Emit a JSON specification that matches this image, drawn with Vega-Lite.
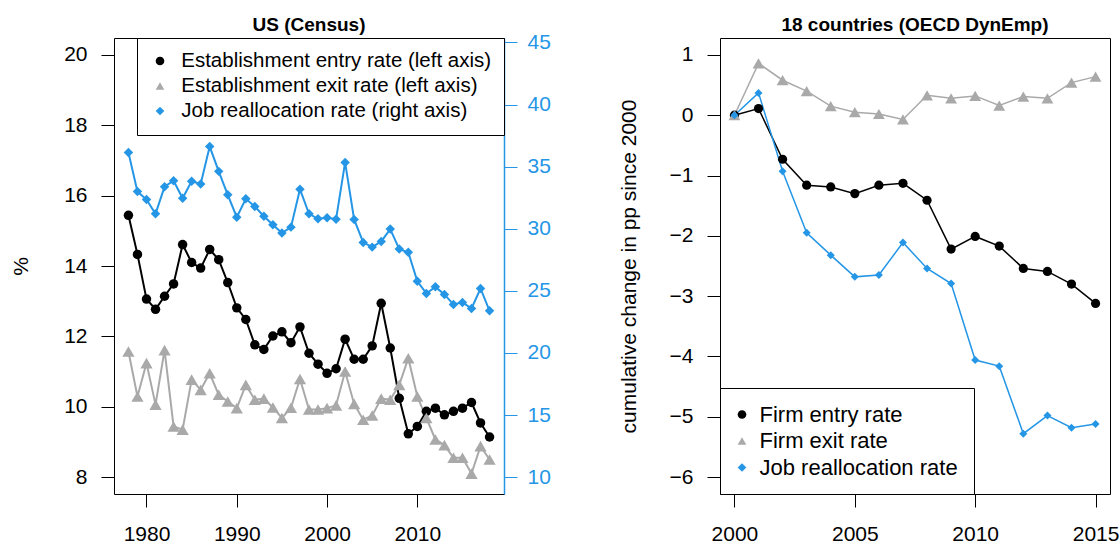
{
  "$schema": "https://vega.github.io/schema/vega-lite/v6.json",
  "padding": {"left": 10, "top": 15, "right": 0, "bottom": 0},
  "background": "white",
  "datasets": {
    "us": [
      {"year": 1978, "series": "entry", "value": 15.44}, {"year": 1979, "series": "entry", "value": 14.33}, {"year": 1980, "series": "entry", "value": 13.06}, {"year": 1981, "series": "entry", "value": 12.77}, {"year": 1982, "series": "entry", "value": 13.14}, {"year": 1983, "series": "entry", "value": 13.49}, {"year": 1984, "series": "entry", "value": 14.61}, {"year": 1985, "series": "entry", "value": 14.10}, {"year": 1986, "series": "entry", "value": 13.94}, {"year": 1987, "series": "entry", "value": 14.47}, {"year": 1988, "series": "entry", "value": 14.18}, {"year": 1989, "series": "entry", "value": 13.53}, {"year": 1990, "series": "entry", "value": 12.81}, {"year": 1991, "series": "entry", "value": 12.48}, {"year": 1992, "series": "entry", "value": 11.76}, {"year": 1993, "series": "entry", "value": 11.63}, {"year": 1994, "series": "entry", "value": 12.01}, {"year": 1995, "series": "entry", "value": 12.13}, {"year": 1996, "series": "entry", "value": 11.82}, {"year": 1997, "series": "entry", "value": 12.27}, {"year": 1998, "series": "entry", "value": 11.52}, {"year": 1999, "series": "entry", "value": 11.21}, {"year": 2000, "series": "entry", "value": 10.95}, {"year": 2001, "series": "entry", "value": 11.08}, {"year": 2002, "series": "entry", "value": 11.92}, {"year": 2003, "series": "entry", "value": 11.35}, {"year": 2004, "series": "entry", "value": 11.35}, {"year": 2005, "series": "entry", "value": 11.73}, {"year": 2006, "series": "entry", "value": 12.94}, {"year": 2007, "series": "entry", "value": 11.67}, {"year": 2008, "series": "entry", "value": 10.24}, {"year": 2009, "series": "entry", "value": 9.23}, {"year": 2010, "series": "entry", "value": 9.44}, {"year": 2011, "series": "entry", "value": 9.87}, {"year": 2012, "series": "entry", "value": 9.96}, {"year": 2013, "series": "entry", "value": 9.77}, {"year": 2014, "series": "entry", "value": 9.87}, {"year": 2015, "series": "entry", "value": 9.96}, {"year": 2016, "series": "entry", "value": 10.12}, {"year": 2017, "series": "entry", "value": 9.54}, {"year": 2018, "series": "entry", "value": 9.14},
      {"year": 1978, "series": "exit", "value": 11.57}, {"year": 1979, "series": "exit", "value": 10.29}, {"year": 1980, "series": "exit", "value": 11.24}, {"year": 1981, "series": "exit", "value": 10.06}, {"year": 1982, "series": "exit", "value": 11.61}, {"year": 1983, "series": "exit", "value": 9.44}, {"year": 1984, "series": "exit", "value": 9.35}, {"year": 1985, "series": "exit", "value": 10.77}, {"year": 1986, "series": "exit", "value": 10.48}, {"year": 1987, "series": "exit", "value": 10.95}, {"year": 1988, "series": "exit", "value": 10.34}, {"year": 1989, "series": "exit", "value": 10.15}, {"year": 1990, "series": "exit", "value": 9.96}, {"year": 1991, "series": "exit", "value": 10.62}, {"year": 1992, "series": "exit", "value": 10.20}, {"year": 1993, "series": "exit", "value": 10.23}, {"year": 1994, "series": "exit", "value": 9.98}, {"year": 1995, "series": "exit", "value": 9.68}, {"year": 1996, "series": "exit", "value": 9.97}, {"year": 1997, "series": "exit", "value": 10.79}, {"year": 1998, "series": "exit", "value": 9.92}, {"year": 1999, "series": "exit", "value": 9.92}, {"year": 2000, "series": "exit", "value": 9.96}, {"year": 2001, "series": "exit", "value": 10.04}, {"year": 2002, "series": "exit", "value": 11.00}, {"year": 2003, "series": "exit", "value": 10.08}, {"year": 2004, "series": "exit", "value": 9.63}, {"year": 2005, "series": "exit", "value": 9.75}, {"year": 2006, "series": "exit", "value": 10.23}, {"year": 2007, "series": "exit", "value": 10.20}, {"year": 2008, "series": "exit", "value": 10.62}, {"year": 2009, "series": "exit", "value": 11.38}, {"year": 2010, "series": "exit", "value": 10.29}, {"year": 2011, "series": "exit", "value": 9.68}, {"year": 2012, "series": "exit", "value": 9.07}, {"year": 2013, "series": "exit", "value": 8.91}, {"year": 2014, "series": "exit", "value": 8.55}, {"year": 2015, "series": "exit", "value": 8.55}, {"year": 2016, "series": "exit", "value": 8.10}, {"year": 2017, "series": "exit", "value": 8.88}, {"year": 2018, "series": "exit", "value": 8.50},
      {"year": 1978, "series": "job", "value": 36.14}, {"year": 1979, "series": "job", "value": 32.99}, {"year": 1980, "series": "job", "value": 32.35}, {"year": 1981, "series": "job", "value": 31.20}, {"year": 1982, "series": "job", "value": 33.39}, {"year": 1983, "series": "job", "value": 33.87}, {"year": 1984, "series": "job", "value": 32.45}, {"year": 1985, "series": "job", "value": 33.82}, {"year": 1986, "series": "job", "value": 33.61}, {"year": 1987, "series": "job", "value": 36.62}, {"year": 1988, "series": "job", "value": 34.62}, {"year": 1989, "series": "job", "value": 32.73}, {"year": 1990, "series": "job", "value": 30.93}, {"year": 1991, "series": "job", "value": 32.41}, {"year": 1992, "series": "job", "value": 31.79}, {"year": 1993, "series": "job", "value": 31.01}, {"year": 1994, "series": "job", "value": 30.32}, {"year": 1995, "series": "job", "value": 29.65}, {"year": 1996, "series": "job", "value": 30.13}, {"year": 1997, "series": "job", "value": 33.18}, {"year": 1998, "series": "job", "value": 31.20}, {"year": 1999, "series": "job", "value": 30.80}, {"year": 2000, "series": "job", "value": 30.88}, {"year": 2001, "series": "job", "value": 30.77}, {"year": 2002, "series": "job", "value": 35.34}, {"year": 2003, "series": "job", "value": 30.75}, {"year": 2004, "series": "job", "value": 28.90}, {"year": 2005, "series": "job", "value": 28.52}, {"year": 2006, "series": "job", "value": 28.98}, {"year": 2007, "series": "job", "value": 29.97}, {"year": 2008, "series": "job", "value": 28.36}, {"year": 2009, "series": "job", "value": 28.10}, {"year": 2010, "series": "job", "value": 25.77}, {"year": 2011, "series": "job", "value": 24.79}, {"year": 2012, "series": "job", "value": 25.32}, {"year": 2013, "series": "job", "value": 24.71}, {"year": 2014, "series": "job", "value": 23.90}, {"year": 2015, "series": "job", "value": 24.07}, {"year": 2016, "series": "job", "value": 23.58}, {"year": 2017, "series": "job", "value": 25.19}, {"year": 2018, "series": "job", "value": 23.39}
    ],
    "oecd": [
      {"year": 2000, "series": "entry", "value": 0}, {"year": 2001, "series": "entry", "value": 0.11}, {"year": 2002, "series": "entry", "value": -0.73}, {"year": 2003, "series": "entry", "value": -1.16}, {"year": 2004, "series": "entry", "value": -1.19}, {"year": 2005, "series": "entry", "value": -1.30}, {"year": 2006, "series": "entry", "value": -1.16}, {"year": 2007, "series": "entry", "value": -1.13}, {"year": 2008, "series": "entry", "value": -1.41}, {"year": 2009, "series": "entry", "value": -2.22}, {"year": 2010, "series": "entry", "value": -2.01}, {"year": 2011, "series": "entry", "value": -2.17}, {"year": 2012, "series": "entry", "value": -2.54}, {"year": 2013, "series": "entry", "value": -2.59}, {"year": 2014, "series": "entry", "value": -2.80}, {"year": 2015, "series": "entry", "value": -3.12},
      {"year": 2000, "series": "exit", "value": 0}, {"year": 2001, "series": "exit", "value": 0.86}, {"year": 2002, "series": "exit", "value": 0.58}, {"year": 2003, "series": "exit", "value": 0.40}, {"year": 2004, "series": "exit", "value": 0.15}, {"year": 2005, "series": "exit", "value": 0.05}, {"year": 2006, "series": "exit", "value": 0.02}, {"year": 2007, "series": "exit", "value": -0.07}, {"year": 2008, "series": "exit", "value": 0.33}, {"year": 2009, "series": "exit", "value": 0.28}, {"year": 2010, "series": "exit", "value": 0.32}, {"year": 2011, "series": "exit", "value": 0.16}, {"year": 2012, "series": "exit", "value": 0.31}, {"year": 2013, "series": "exit", "value": 0.28}, {"year": 2014, "series": "exit", "value": 0.54}, {"year": 2015, "series": "exit", "value": 0.64},
      {"year": 2000, "series": "job", "value": 0}, {"year": 2001, "series": "job", "value": 0.37}, {"year": 2002, "series": "job", "value": -0.93}, {"year": 2003, "series": "job", "value": -1.95}, {"year": 2004, "series": "job", "value": -2.32}, {"year": 2005, "series": "job", "value": -2.68}, {"year": 2006, "series": "job", "value": -2.65}, {"year": 2007, "series": "job", "value": -2.11}, {"year": 2008, "series": "job", "value": -2.54}, {"year": 2009, "series": "job", "value": -2.79}, {"year": 2010, "series": "job", "value": -4.06}, {"year": 2011, "series": "job", "value": -4.16}, {"year": 2012, "series": "job", "value": -5.28}, {"year": 2013, "series": "job", "value": -4.98}, {"year": 2014, "series": "job", "value": -5.18}, {"year": 2015, "series": "job", "value": -5.12}
    ]
  },
  "spacing": 66,
  "hconcat": [
    {
      "width": 390,
      "height": 456,
      "title": {"text": "US (Census)", "offset": -4},
      "data": {"name": "us"},
      "layer": [
        {
          "transform": [{"filter": "datum.series !== 'job'"}],
          "encoding": {
            "x": {"field": "year", "type": "quantitative", "scale": {"domain": [1976.4, 2019.6], "nice": false, "zero": false}, "axis": {"values": [1980, 1990, 2000, 2010], "format": "d", "title": null, "domain": false, "labelPadding": 16}},
            "y": {"field": "value", "type": "quantitative", "scale": {"domain": [7.52, 20.48], "nice": false, "zero": false}, "axis": {"orient": "left", "values": [8, 10, 12, 14, 16, 18, 20], "title": "%", "domain": false, "titlePadding": 32}}
          },
          "layer": [
            {"transform": [{"filter": "datum.series === 'entry'"}], "mark": {"type": "line", "strokeWidth": 2, "color": "#000000"}, "encoding": {}},
            {"transform": [{"filter": "datum.series === 'exit'"}], "mark": {"type": "line", "strokeWidth": 2, "color": "#A9A9A9"}, "encoding": {}},
            {"transform": [{"filter": "datum.series === 'entry'"}],
             "mark": {"type": "point", "filled": true, "opacity": 1, "strokeWidth": 0, "size": 90},
             "encoding": {
               "color": {"field": "series", "type": "nominal", "scale": {"domain": ["entry", "exit", "job"], "range": ["#000000", "#A9A9A9", "#2596E6"]},
                 "legend": {"orient": "top-right", "offset": 0, "title": null, "padding": 12.75, "rowPadding": 4, "labelFontSize": 20.5, "labelOffset": 11, "symbolOffset": 0, "symbolSize": 75, "strokeColor": "black", "fillColor": "white", "labelLimit": 500,
                   "labelExpr": "datum.label === 'entry' ? 'Establishment entry rate (left axis)' : datum.label === 'exit' ? 'Establishment exit rate (left axis)' : 'Job reallocation rate (right axis)'"}},
               "shape": {"field": "series", "type": "nominal", "scale": {"domain": ["entry", "exit", "job"], "range": ["circle", "triangle-up", "diamond"]}}
             }},
            {"transform": [{"filter": "datum.series === 'exit'"}],
             "mark": {"type": "point", "filled": true, "opacity": 1, "strokeWidth": 0, "size": 150},
             "encoding": {
               "color": {"field": "series", "type": "nominal", "scale": {"domain": ["entry", "exit", "job"], "range": ["#000000", "#A9A9A9", "#2596E6"]}},
               "shape": {"field": "series", "type": "nominal", "scale": {"domain": ["entry", "exit", "job"], "range": ["circle", "triangle-up", "diamond"]}}
             }}
          ]
        },
        {
          "transform": [{"filter": "datum.series === 'job'"}],
          "encoding": {
            "x": {"field": "year", "type": "quantitative", "scale": {"domain": [1976.4, 2019.6], "nice": false, "zero": false}, "axis": {"values": [1980, 1990, 2000, 2010], "format": "d", "title": null, "domain": false, "labelPadding": 16}},
            "y": {"field": "value", "type": "quantitative", "scale": {"domain": [8.64, 45.36], "nice": false, "zero": false}, "axis": {"orient": "right", "values": [10, 15, 20, 25, 30, 35, 40, 45], "title": null, "domain": true, "domainColor": "#2596E6", "domainWidth": 1.5, "tickColor": "#2596E6", "labelColor": "#2596E6", "labelPadding": 10}}
          },
          "layer": [
            {"mark": {"type": "line", "strokeWidth": 2, "color": "#2596E6"}, "encoding": {}},
            {"mark": {"type": "point", "filled": true, "opacity": 1, "strokeWidth": 0, "size": 90},
             "encoding": {
               "color": {"field": "series", "type": "nominal", "scale": {"domain": ["entry", "exit", "job"], "range": ["#000000", "#A9A9A9", "#2596E6"]}},
               "shape": {"field": "series", "type": "nominal", "scale": {"domain": ["entry", "exit", "job"], "range": ["circle", "triangle-up", "diamond"]}}
             }}
          ]
        }
      ],
      "resolve": {"scale": {"y": "independent"}}
    },
    {
      "width": 390,
      "height": 456,
      "title": {"text": "18 countries (OECD DynEmp)", "offset": 3},
      "data": {"name": "oecd"},
      "encoding": {
        "x": {"field": "year", "type": "quantitative", "scale": {"domain": [1999.4, 2015.6], "nice": false, "zero": false}, "axis": {"values": [2000, 2005, 2010, 2015], "format": "d", "title": null, "domain": false, "labelPadding": 16}},
        "y": {"field": "value", "type": "quantitative", "scale": {"domain": [-6.28, 1.28], "nice": false, "zero": false}, "axis": {"values": [-6, -5, -4, -3, -2, -1, 0, 1], "title": "cumulative change in pp since 2000", "domain": false, "titlePadding": 30}}
      },
      "layer": [
        {"transform": [{"filter": "datum.series === 'entry'"}], "mark": {"type": "line", "strokeWidth": 1.5, "color": "#000000"}, "encoding": {}},
        {"transform": [{"filter": "datum.series === 'exit'"}], "mark": {"type": "line", "strokeWidth": 1.5, "color": "#A9A9A9"}, "encoding": {}},
        {"transform": [{"filter": "datum.series === 'job'"}], "mark": {"type": "line", "strokeWidth": 1.5, "color": "#2596E6"}, "encoding": {}},
        {"transform": [{"filter": "datum.series === 'entry'"}],
         "mark": {"type": "point", "filled": true, "opacity": 1, "strokeWidth": 0, "size": 85},
         "encoding": {
           "color": {"field": "series", "type": "nominal", "scale": {"domain": ["entry", "exit", "job"], "range": ["#000000", "#A9A9A9", "#2596E6"]},
             "legend": {"orient": "bottom-left", "offset": 0, "title": null, "padding": 15.5, "rowPadding": 4.5, "labelFontSize": 22, "labelOffset": 6.5, "symbolOffset": -4.5, "symbolSize": 75, "strokeColor": "black", "fillColor": "white", "labelLimit": 500,
               "labelExpr": "datum.label === 'entry' ? 'Firm entry rate' : datum.label === 'exit' ? 'Firm exit rate' : 'Job reallocation rate'"}},
           "shape": {"field": "series", "type": "nominal", "scale": {"domain": ["entry", "exit", "job"], "range": ["circle", "triangle-up", "diamond"]}}
         }},
        {"transform": [{"filter": "datum.series === 'exit'"}],
         "mark": {"type": "point", "filled": true, "opacity": 1, "strokeWidth": 0, "size": 140},
         "encoding": {
           "color": {"field": "series", "type": "nominal", "scale": {"domain": ["entry", "exit", "job"], "range": ["#000000", "#A9A9A9", "#2596E6"]}},
           "shape": {"field": "series", "type": "nominal", "scale": {"domain": ["entry", "exit", "job"], "range": ["circle", "triangle-up", "diamond"]}}
         }},
        {"transform": [{"filter": "datum.series === 'job'"}],
         "mark": {"type": "point", "filled": true, "opacity": 1, "strokeWidth": 0, "size": 64},
         "encoding": {
           "color": {"field": "series", "type": "nominal", "scale": {"domain": ["entry", "exit", "job"], "range": ["#000000", "#A9A9A9", "#2596E6"]}},
           "shape": {"field": "series", "type": "nominal", "scale": {"domain": ["entry", "exit", "job"], "range": ["circle", "triangle-up", "diamond"]}}
         }}
      ]
    }
  ],
  "resolve": {"scale": {"color": "independent", "shape": "independent"}},
  "config": {
    "font": "Liberation Sans",
    "view": {"stroke": "black", "strokeWidth": 1},
    "axis": {"labelFont": "Liberation Sans", "labelFontSize": 21, "labelColor": "black", "tickColor": "black", "tickSize": 13, "tickWidth": 1, "labelPadding": 14, "grid": false, "titleFont": "Liberation Sans", "titleFontSize": 21, "titleFontWeight": "normal", "titleColor": "black", "labelFlush": false, "labelOverlap": false},
    "legend": {"labelFont": "Liberation Sans", "labelColor": "black"},
    "title": {"font": "Liberation Sans", "fontSize": 19, "fontWeight": "bold", "color": "black", "frame": "group", "anchor": "middle"}
  }
}
